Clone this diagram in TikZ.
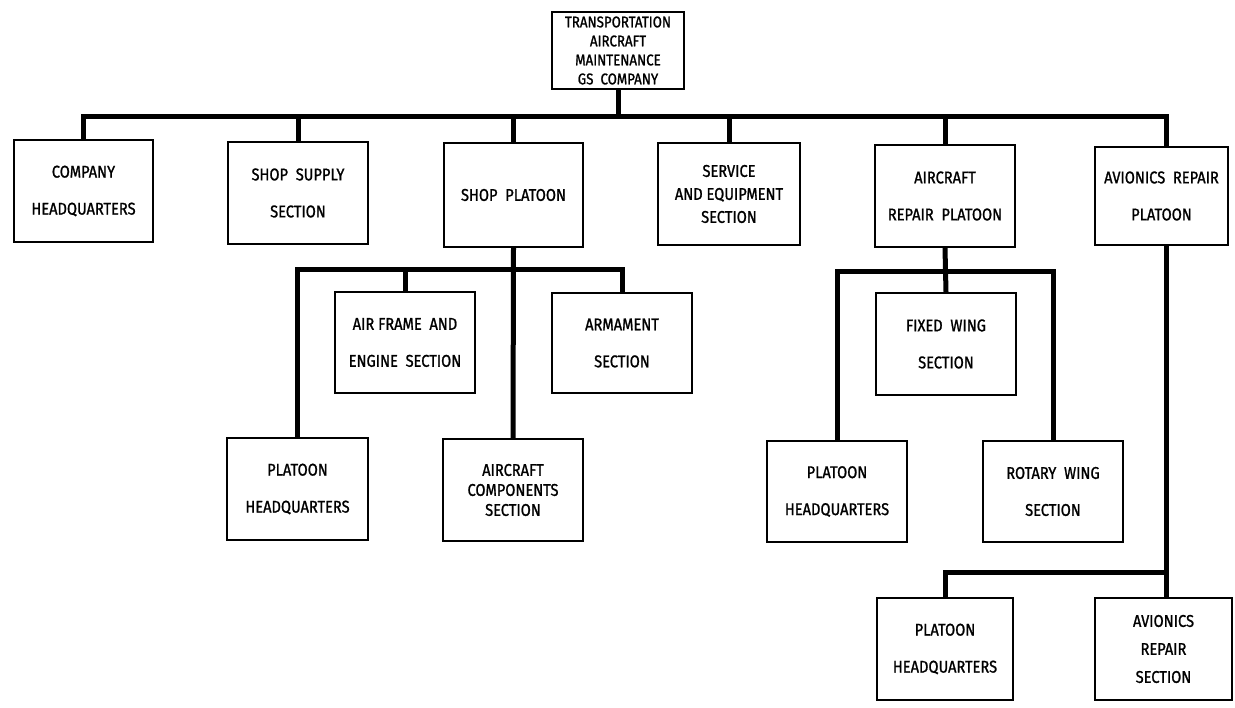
\documentclass[tikz,border=0pt]{standalone}
\usepackage{fontspec}
\setmainfont{Fira Sans}[FakeStretch=0.86, FakeBold=1.2]
\begin{document}
\begin{tikzpicture}[x=1pt,y=-1pt]
\tikzset{
  box/.style={draw, line width=1.8pt, inner sep=0pt, align=center,
    font=\fontsize{17}{37}\selectfont},
  conn/.style={line width=5pt},
}
\useasboundingbox (0,0) rectangle (1235,708);
% top
\node[box, minimum width=132, minimum height=77, font=\fontsize{15.5}{19}\selectfont] (top) at (618,50.5)
  {TRANSPORTATION\\AIRCRAFT\\MAINTENANCE\\GS\ \ COMPANY};
% level 1
\node[box, minimum width=139, minimum height=102] (chq) at (83.5,191) {COMPANY\\HEADQUARTERS};
\node[box, minimum width=140, minimum height=102] (ssup) at (298,193) {SHOP\ \ SUPPLY\\SECTION};
\node[box, minimum width=139, minimum height=104] (spl) at (513.5,195) {SHOP\ \ PLATOON};
\node[box, minimum width=142, minimum height=102, font=\fontsize{17}{23}\selectfont] (serv) at (729,194) {SERVICE\\AND EQUIPMENT\\SECTION};
\node[box, minimum width=140, minimum height=102] (arp) at (945,196) {AIRCRAFT\\REPAIR\ \ PLATOON};
\node[box, minimum width=133, minimum height=98] (avp) at (1161.5,196) {AVIONICS\ \ REPAIR\\PLATOON};
% shop platoon subtree
\node[box, minimum width=141, minimum height=102] (phqa) at (297.5,489) {PLATOON\\HEADQUARTERS};
\node[box, minimum width=140, minimum height=101] (afe) at (405,342.5) {AIR FRAME\ \ AND\\ENGINE\ \ SECTION};
\node[box, minimum width=140, minimum height=100] (arm) at (622,343) {ARMAMENT\\SECTION};
\node[box, minimum width=140, minimum height=102, font=\fontsize{17}{20}\selectfont] (acc) at (513,490) {AIRCRAFT\\COMPONENTS\\SECTION};
% aircraft repair subtree
\node[box, minimum width=140, minimum height=102] (fw) at (946,344) {FIXED\ \ WING\\SECTION};
\node[box, minimum width=140, minimum height=101] (phqb) at (837,491.5) {PLATOON\\HEADQUARTERS};
\node[box, minimum width=140, minimum height=101] (rw) at (1053,491.5) {ROTARY\ \ WING\\SECTION};
% avionics subtree
\node[box, minimum width=136, minimum height=102] (phqc) at (945,649) {PLATOON\\HEADQUARTERS};
\node[box, minimum width=137, minimum height=102, font=\fontsize{17}{28}\selectfont] (ars) at (1163.5,649) {AVIONICS\\REPAIR\\SECTION};
% bar levels
\coordinate (b1) at (0,117);
\coordinate (b2) at (0,270);
\coordinate (b3) at (0,272);
\coordinate (b4) at (0,572);
\coordinate (avpn) at ([xshift=4.5pt]avp.north);
\coordinate (avps) at ([xshift=4.5pt]avp.south);
% connectors
\draw[conn] (top.south) -- (top.south |- b1);
\draw[conn] (chq.north) -- (chq.north |- b1) -- (avpn |- b1) -- (avpn);
\foreach \n in {ssup,spl,serv,arp} \draw[conn] (\n.north) -- (\n.north |- b1);
\draw[conn] (spl.south) -- (acc.north);
\draw[conn] (phqa.north) -- (phqa.north |- b2) -- (arm.north |- b2) -- (arm.north);
\draw[conn] (afe.north) -- (afe.north |- b2);
\draw[conn] (arp.south) -- (fw.north);
\draw[conn] (phqb.north) -- (phqb.north |- b3) -- (rw.north |- b3) -- (rw.north);
\draw[conn] (avps) -- (avps |- ars.north);
\draw[conn] (phqc.north) -- (phqc.north |- b4) -- (avps |- b4);
\end{tikzpicture}
\end{document}
